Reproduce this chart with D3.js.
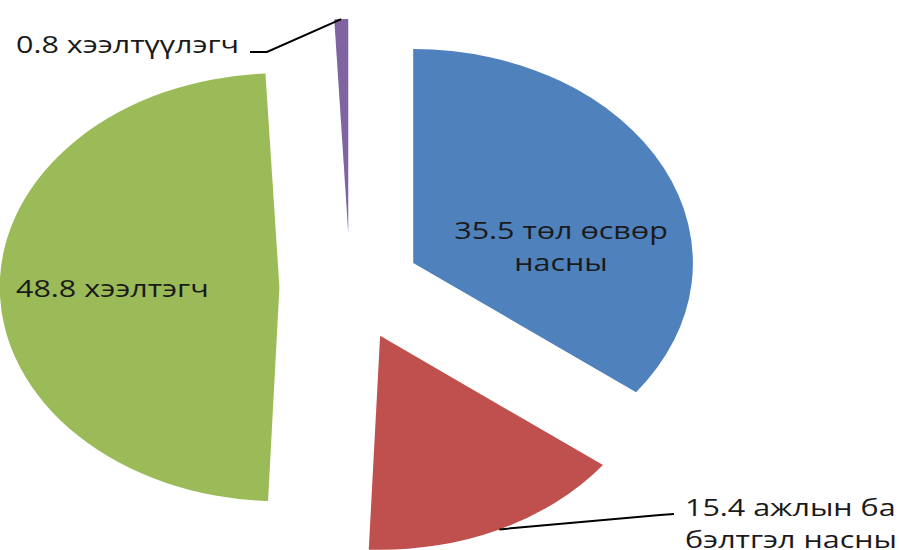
<!DOCTYPE html>
<html>
<head>
<meta charset="utf-8">
<script src="https://cdn.jsdelivr.net/npm/d3@7"></script>
<style>
  html, body { margin: 0; padding: 0; background: #fff; }
  svg { display: block; }
</style>
</head>
<body>
<svg id="chart" width="899" height="550"></svg>
<script>
// ---- data ----
const categories = ["төл өсвөр насны", "ажлын ба бэлтгэл насны", "хээлтэгч", "хээлтүүлэгч"];
const values = [35.5, 15.4, 48.8, 0.8];
const colors = ["#4F81BD", "#C0504D", "#9BBB59", "#8064A2"];
const labelLines = [
  ["35.5 төл өсвөр", "насны"],
  ["15.4 ажлын ба", "бэлтгэл насны"],
  ["48.8 хээлтэгч"],
  ["0.8 хээлтүүлэгч"]
];

// ---- layout ----
const W = 899, H = 550;
const cx = 350, cy = 287, R = 214, SX = 1.307, EXPLODE = 54;
const FONT = "'Open Sans', 'Noto Sans', sans-serif";
const FS = 24, TX = 1.27, LH = 32;

// label placement: [x, baselineY, anchor]; leader: true if label uses a leader line
const labelPos = [
  {x: 561, y: 239, anchor: "middle", leader: false},
  {x: 685, y: 516, anchor: "start", leader: true, elbow: [[660, 515], [674, 514]]},
  {x: 16, y: 297, anchor: "start", leader: false},
  {x: 16, y: 53, anchor: "start", leader: true, elbow: [[267, 52], [250, 52]]}
];

const svg = d3.select("#chart");
svg.append("rect").attr("width", W).attr("height", H).attr("fill", "#fff");

const pie = d3.pie().sort(null).value(d => d)(values);
const arc = d3.arc().innerRadius(0).outerRadius(R);

const root = svg.append("g").attr("transform", `translate(${cx},${cy}) scale(${SX},1)`);

function offset(d) {
  const a = (d.startAngle + d.endAngle) / 2;
  return [Math.sin(a) * EXPLODE, -Math.cos(a) * EXPLODE];
}

root.selectAll("path.slice")
  .data(pie)
  .join("path")
  .attr("class", "slice")
  .attr("d", arc)
  .attr("fill", (d, i) => colors[i])
  .attr("transform", d => { const o = offset(d); return `translate(${o[0]},${o[1]})`; });

// leader lines (computed from slice outer midpoint)
const leaders = svg.append("g");
pie.forEach((d, i) => {
  const lp = labelPos[i];
  if (!lp.leader) return;
  const a = (d.startAngle + d.endAngle) / 2;
  const o = offset(d);
  const px = cx + SX * (o[0] + Math.sin(a) * R);
  const py = cy + (o[1] - Math.cos(a) * R);
  const pts = [[px, py]].concat(lp.elbow);
  leaders.append("path")
    .attr("d", d3.line()(pts))
    .attr("fill", "none")
    .attr("stroke", "#000")
    .attr("stroke-width", 2);
});

// labels
const labels = svg.append("g");
labelLines.forEach((lines, i) => {
  const lp = labelPos[i];
  const t = labels.append("text")
    .attr("transform", `translate(${lp.x},${lp.y}) scale(${TX},1)`)
    .attr("text-anchor", lp.anchor)
    .attr("font-family", FONT)
    .attr("font-size", FS)
    .attr("fill", "#1a1a1a");
  lines.forEach((ln, j) => {
    t.append("tspan").attr("x", 0).attr("y", j * LH).text(ln);
  });
});
</script>
</body>
</html>
